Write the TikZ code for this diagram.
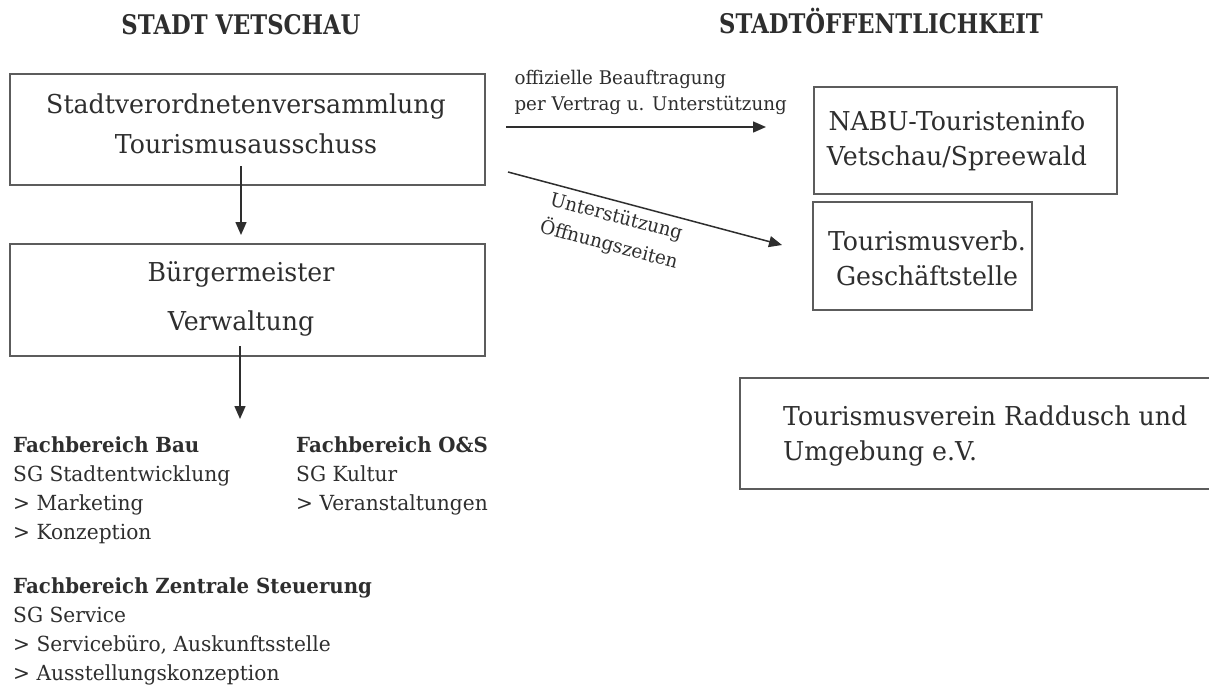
\documentclass[tikz,border=0pt]{standalone}
\usepackage{fontspec}
\setmainfont{DejaVu Serif}[FakeStretch=0.97,BoldFeatures={FakeStretch=0.95}]
\newfontfamily\titlefont{DejaVu Serif}[FakeStretch=0.84]
\usetikzlibrary{arrows.meta}
\definecolor{txt}{HTML}{2E2E2E}
\definecolor{frame}{HTML}{5C5C5C}
\tikzset{
  box/.style={draw=frame, line width=2pt, rectangle, inner sep=0pt},
  boxtext/.style={text=txt, font=\fontsize{26}{40}\selectfont, inner sep=0pt},
  title/.style={text=txt, font=\titlefont\fontsize{27}{32}\selectfont\bfseries, inner sep=0pt, anchor=base},
  small/.style={text=txt, font=\fontsize{18.8}{25}\selectfont, inner sep=0pt},
  list/.style={text=txt, font=\fontsize{20.8}{29}\selectfont, inner sep=0pt, align=left, anchor=base west},
  arr/.style={draw=txt, line width=1.5pt, -{Triangle[length=13pt,width=11pt]}}
}
\begin{document}
\begin{tikzpicture}[x=1pt,y=-1pt]
\useasboundingbox[fill=white] (0,0) rectangle (1209,685);
% titles
\node[title] (t1) at (241,35) {STADT VETSCHAU};
\node[title] (t2) at (881,34) {STADTÖFFENTLICHKEIT};
% boxes
\node[box, minimum width=475pt, minimum height=111pt] (svv) at (247.5,129.5) {};
\node[box, minimum width=475pt, minimum height=112pt] (bgm) at (247.5,300) {};
\node[box, minimum width=303pt, minimum height=107pt] (nabu) at (965.5,140.5) {};
\node[box, minimum width=219pt, minimum height=108pt] (tv) at (922.5,256) {};
\node[box, minimum width=520pt, minimum height=111pt] (trv) at (1000,433.5) {};
% box texts (anchor = baseline of last line)
\node[boxtext, align=center, anchor=base] (svvt) at (246,153) {Stadtverordnetenversammlung\\Tourismusausschuss};
\node[boxtext, align=center, anchor=base] (bgmt) at (241,330) {Bürgermeister\\[9pt]Verwaltung};
\node[boxtext, align=center, anchor=base] (nabut) at (957,165) {NABU-Touristeninfo\\[-5pt]Vetschau/Spreewald};
\node[boxtext, align=center, anchor=base] (tvt) at (927,285) {Tourismusverb.\\[-5pt]Geschäftstelle};
\node[boxtext, align=left, anchor=base west] (trvt) at (783,460) {Tourismusverein Raddusch und\\[-5pt]Umgebung e.V.};
% arrows
\draw[arr, shorten >=8pt] ([xshift=-6.5pt,yshift=20pt]svv.south) -- ([xshift=-6.5pt]bgm.north);
\draw[arr] ([xshift=-7.5pt,yshift=11pt]bgm.south) -- ++(0,73);
\draw[arr] ([xshift=20pt,yshift=2.5pt]svv.east) -- ([xshift=-47pt,yshift=13.5pt]nabu.west)
  node[small, pos=0.03, anchor=base west, yshift=17pt, align=left] (lab1) {offizielle Beauftragung\\per Vertrag u. Unterstützung};
\draw[arr] ([xshift=22pt,yshift=14pt]svv.south east) -- ([xshift=-30pt,yshift=11pt]tv.west)
  node[small, sloped, pos=0.41, anchor=north, align=center, inner sep=6pt, font=\fontsize{19}{29}\selectfont] (lab2) {Unterstützung\\Öffnungszeiten};
% lists
\node[list] (fbb) at (13,539) {\textbf{Fachbereich Bau}\\SG Stadtentwicklung\\> Marketing\\> Konzeption};
\node[list] (fbo) at (296,510) {\textbf{Fachbereich O\&S}\\SG Kultur\\> Veranstaltungen};
\node[list] (fbz) at (13,680) {\textbf{Fachbereich Zentrale Steuerung}\\SG Service\\> Servicebüro, Auskunftsstelle\\> Ausstellungskonzeption};
\end{tikzpicture}
\end{document}
